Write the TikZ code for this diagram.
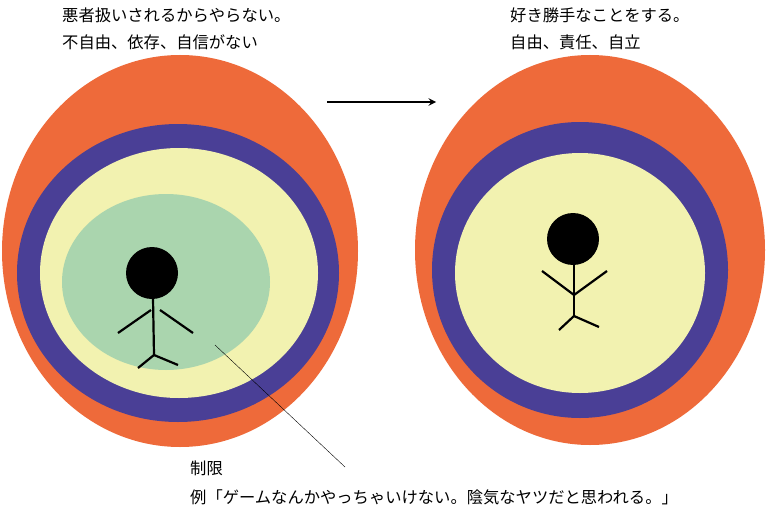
\documentclass[tikz,border=0pt]{standalone}
\usepackage{fontspec}
\setmainfont{Noto Sans CJK JP}
\usetikzlibrary{positioning}
\definecolor{ringout}{HTML}{EE6A3A}
\definecolor{ringmid}{HTML}{4A3F96}
\definecolor{ringin}{HTML}{F2F2B0}
\definecolor{ringcore}{HTML}{AAD5AE}
\tikzset{
  label/.style={inner sep=0pt, anchor=west, font=\fontsize{16.3}{19}\selectfont},
  limb/.style={line width=2.2pt, line cap=butt},
}
\begin{document}
\begin{tikzpicture}[x=1pt, y=-1pt]
\useasboundingbox[fill=white] (0,0) rectangle (768,511);
% left circles
\fill[ringout] (180,251) ellipse [x radius=178, y radius=196];
\fill[ringmid] (178,273) ellipse [x radius=161, y radius=149];
\fill[ringin] (179,273) ellipse [x radius=139, y radius=125];
\fill[ringcore] (166,282) ellipse [x radius=104, y radius=88];
% left figure
\fill (152,273) circle [radius=26];
\draw[limb] (153,298) -- (154,355);
\draw[limb] (151,310) -- (118,333);
\draw[limb] (160,310) -- (193,333);
\draw[limb] (154,355) -- (138,368);
\draw[limb] (154,355) -- (178,365);
% right circles
\fill[ringout] (590,250) ellipse [x radius=175, y radius=195];
\fill[ringmid] (580,270) ellipse [x radius=148, y radius=148];
\fill[ringin] (580,273) ellipse [x radius=125, y radius=120];
% right figure
\fill (573,239) circle [radius=26];
\draw[limb] (574,265) -- (574,316);
\draw[limb] (574,295) -- (542,271);
\draw[limb] (574,295) -- (607,271);
\draw[limb] (574,316) -- (559,330);
\draw[limb] (574,316) -- (599,327);
% arrow
\coordinate (arrA) at (327,102);
\coordinate (arrB) at (436,102);
\draw[line width=2.2pt, -stealth] (arrA) -- (arrB);
% texts
\node[label] (bad1) at (62,15) {悪者扱いされるからやらない。};
\node[label] (bad2) at (62,42) {不自由、依存、自信がない};
\node[label] (good1) at (510,15) {好き勝手なことをする。};
\node[label] (good2) at (510,42) {自由、責任、自立};
\node[label] (limit) at (190,468) {制限};
\node[label] (ex) at (190,497) {例「ゲームなんかやっちゃいけない。陰気なヤツだと思われる。」};
\coordinate (pt) at (215,345);
\draw[thin] (pt) -- (345,467);
\end{tikzpicture}
\end{document}
